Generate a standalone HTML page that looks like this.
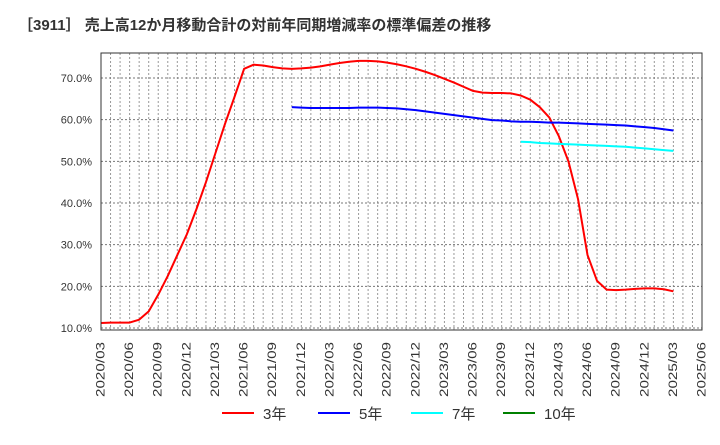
<!DOCTYPE html>
<html><head><meta charset="utf-8"><style>
body{margin:0;background:#fff;font-family:"Liberation Sans","Noto Sans CJK JP",sans-serif}
svg text{font-family:"Liberation Sans","Noto Sans CJK JP",sans-serif}
</style></head><body>
<svg id="chart" width="720" height="440" xmlns="http://www.w3.org/2000/svg">
<text x="18" y="30" font-size="15" font-weight="bold" fill="#333">［3911］ 売上高12か月移動合計の対前年同期増減率の標準偏差の推移</text>
<g id="grid"></g>
<g id="yaxis"></g>
<g id="xaxis"></g>
<g id="series"></g>
<rect x="101" y="53" width="601" height="277" fill="none" stroke="#333" stroke-width="1"/>
<g id="legend"></g>
</svg>
<script>
const yTicks=[10,20,30,40,50,60,70];
const xLabels=["2020/03","2020/06","2020/09","2020/12","2021/03","2021/06","2021/09","2021/12","2022/03","2022/06","2022/09","2022/12","2023/03","2023/06","2023/09","2023/12","2024/03","2024/06","2024/09","2024/12","2025/03","2025/06"];
const s3Start=0;
const s3=[11.2,11.3,11.3,11.3,12,14,18,22.5,27.5,32.5,38.5,45,52,59,65.5,72.2,73.2,73,72.6,72.3,72.2,72.3,72.5,72.8,73.2,73.6,73.9,74.1,74.1,74,73.7,73.3,72.8,72.2,71.5,70.7,69.8,68.9,67.9,66.9,66.5,66.4,66.4,66.3,65.8,64.8,63,60.5,56,50,41,27.5,21.3,19.2,19.1,19.2,19.4,19.5,19.5,19.3,18.8];
const s5Start=20;
const s5=[63.0,62.9,62.8,62.8,62.8,62.8,62.8,62.9,62.9,62.9,62.8,62.7,62.5,62.3,62.0,61.7,61.4,61.1,60.8,60.5,60.2,59.9,59.8,59.6,59.5,59.5,59.4,59.3,59.3,59.2,59.1,59.0,58.9,58.8,58.7,58.6,58.4,58.2,58.0,57.7,57.4];
const s7Start=44;
const s7=[54.7,54.6,54.4,54.3,54.2,54.1,54.0,53.9,53.8,53.7,53.6,53.5,53.3,53.1,52.9,52.7,52.5];
const ns="http://www.w3.org/2000/svg";
const X0=101,X1=702,months=63,Y0=330,Y1=53;
const xs=i=>X0+(X1-X0)*i/months;
const ys=v=>328-(v-10)*(328-78)/60;
function mk(tag,attrs,parent){const e=document.createElementNS(ns,tag);for(const k in attrs)e.setAttribute(k,attrs[k]);parent.appendChild(e);return e;}
const grid=document.getElementById('grid'),ya=document.getElementById('yaxis'),xa=document.getElementById('xaxis'),ser=document.getElementById('series'),leg=document.getElementById('legend');
for(let i=1;i<months;i++){const l=mk('line',{x1:xs(i),x2:xs(i),y1:Y1,y2:Y0,stroke:'#999','stroke-dasharray':'2,2','stroke-width':1},grid);

}
yTicks.forEach(v=>{const l=mk('line',{x1:X0,x2:X1,y1:ys(v),y2:ys(v),stroke:'#777','stroke-dasharray':'2,2','stroke-width':1},grid);


const t=mk('text',{x:92,y:ys(v)+4,'text-anchor':'end','font-size':11,fill:'#333'},ya);t.textContent=v.toFixed(1)+'%';

});
xLabels.forEach((s,i)=>{const x=xs(i*3);const t=mk('text',{x:0,y:0,transform:`translate(${x+3.5},342) rotate(-90)`,'text-anchor':'end','font-size':11.5,textLength:55,lengthAdjust:'spacingAndGlyphs',fill:'#333'},xa);t.textContent=s;

});
function line(data,start,color,name){const p=mk('polyline',{points:data.map((v,i)=>xs(start+i)+','+ys(v)).join(' '),fill:'none',stroke:color,'stroke-width':2,'stroke-linejoin':'round'},ser);

}
line(s3,s3Start,'#ff0000','series-3y');
line(s5,s5Start,'#0000ff','series-5y');
line(s7,s7Start,'#00ffff','series-7y');
const legItems=[['3年','#ff0000',222],['5年','#0000ff',318],['7年','#00ffff',411],['10年','#008000',503]];
legItems.forEach(([lab,c,x])=>{const g=mk('g',{},leg);


mk('line',{x1:x,x2:x+32,y1:413,y2:413,stroke:c,'stroke-width':2},g);
const t=mk('text',{x:x+41,y:419,'font-size':15,fill:'#333'},g);t.textContent=lab;});
</script>
</body></html>
